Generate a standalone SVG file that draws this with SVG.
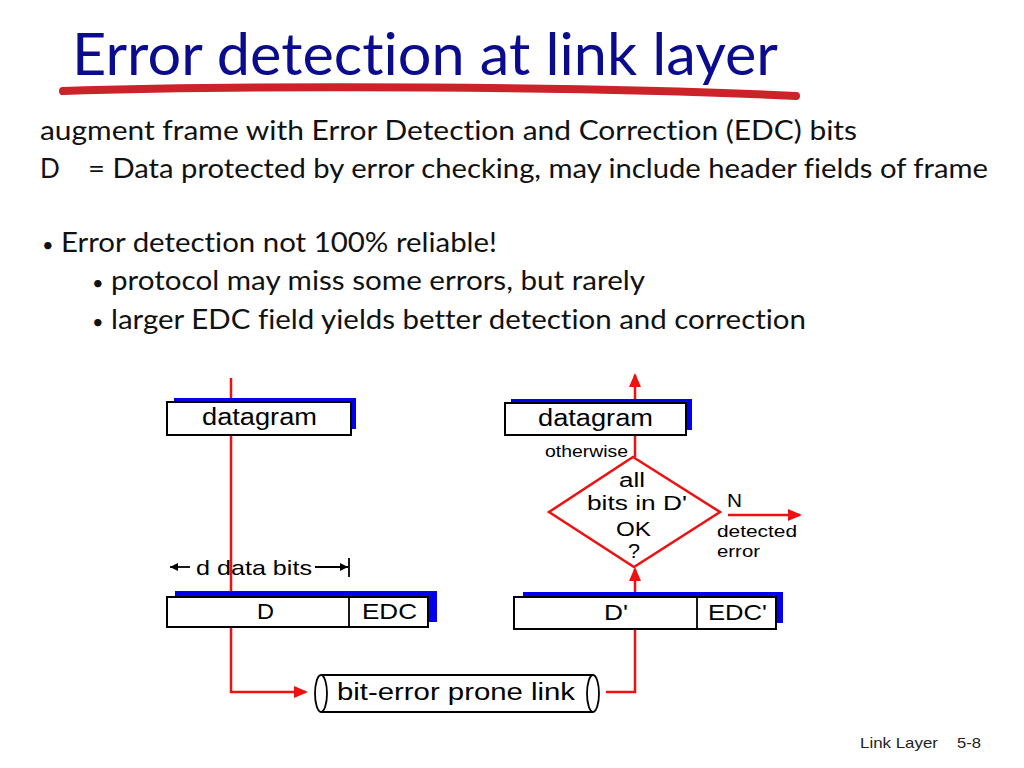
<svg xmlns="http://www.w3.org/2000/svg" width="1024" height="768" viewBox="0 0 1024 768">
<defs>
<style>
.title{font-family:"Lato","Open Sans","Liberation Sans",sans-serif;font-size:58px;fill:#0B0B8E;font-variant-ligatures:none}
.body{font-family:"Lato","Open Sans","Liberation Sans",sans-serif;font-size:26px;fill:#111;font-variant-ligatures:none}
.bul{font-size:20px}
.dg{font-family:"Liberation Sans",Arial,sans-serif;fill:#000}
.box{fill:#fff;stroke:#000;stroke-width:2}
.shadow{fill:#0000EE}
.red{fill:none;stroke:#EE1111;stroke-width:2.5}
.blk{fill:none;stroke:#000;stroke-width:1.8}
.foot{font-family:"Liberation Sans",Arial,sans-serif;font-size:15px;fill:#222}
</style>
<marker id="rh" viewBox="0 0 14 12" refX="12" refY="6" markerWidth="14" markerHeight="12" markerUnits="userSpaceOnUse" orient="auto">
<path d="M0,0 L14,6 L0,12 z" fill="#EE1111"/>
</marker>
<marker id="bh" viewBox="0 0 10 10" refX="10" refY="5" markerWidth="9" markerHeight="8" markerUnits="userSpaceOnUse" orient="auto">
<path d="M0,0 L10,5 L0,10 z" fill="#000"/>
</marker>
</defs>
<rect width="1024" height="768" fill="#fff"/>

<g id="title">
<text class="title" x="72" y="75" textLength="706" lengthAdjust="spacingAndGlyphs">Error detection at link layer</text>
<path d="M63,91 C 250,85 600,86 796,96" fill="none" stroke="#CC2229" stroke-width="8" stroke-linecap="round"/>
</g>

<g id="text-body">
<text class="body" x="40" y="140" textLength="817" lengthAdjust="spacingAndGlyphs">augment frame with Error Detection and Correction (EDC) bits</text>
<text class="body" x="40" y="178">D</text>
<text class="body" x="88" y="178" textLength="900" lengthAdjust="spacingAndGlyphs">= Data protected by error checking, may include header fields of frame</text>
<text class="body" x="42" y="252"><tspan class="bul">•</tspan></text>
<text class="body" x="61" y="252" textLength="436" lengthAdjust="spacingAndGlyphs">Error detection not 100% reliable!</text>
<text class="body" x="92" y="290"><tspan class="bul">•</tspan></text>
<text class="body" x="111" y="290" textLength="534" lengthAdjust="spacingAndGlyphs">protocol may miss some errors, but rarely</text>
<text class="body" x="92" y="329"><tspan class="bul">•</tspan></text>
<text class="body" x="111" y="329" textLength="695" lengthAdjust="spacingAndGlyphs">larger EDC field yields better detection and correction</text>
</g>

<g id="connectors">
<polyline class="red" points="231,378 231,692 306,692" marker-end="url(#rh)"/>
<polyline class="red" points="606,692 635,692 635,629"/>
<line class="red" x1="635" y1="597" x2="635" y2="569" marker-end="url(#rh)"/>
<line class="red" x1="635" y1="457" x2="635" y2="435"/>
<line class="red" x1="635" y1="399" x2="635" y2="375" marker-end="url(#rh)"/>
<line class="red" x1="728" y1="515" x2="800" y2="515" marker-end="url(#rh)"/>
<line class="blk" x1="190" y1="567" x2="170" y2="567" marker-end="url(#bh)"/>
<line class="blk" x1="315" y1="567" x2="348" y2="567" marker-end="url(#bh)"/>
<line class="blk" x1="349" y1="558" x2="349" y2="577"/>
</g>

<g id="datagram-left">
<rect class="shadow" x="174" y="398" width="182" height="31"/>
<rect class="box" x="167" y="402" width="184" height="33"/>
<text class="dg" x="202" y="425" font-size="23" textLength="115" lengthAdjust="spacingAndGlyphs">datagram</text>
</g>

<g id="dbits-label">
<text class="dg" x="196" y="575" font-size="21" textLength="116" lengthAdjust="spacingAndGlyphs">d data bits</text>
</g>

<g id="frame-left">
<rect class="shadow" x="175" y="591" width="262" height="31"/>
<rect class="box" x="167" y="597" width="261" height="30"/>
<line class="blk" x1="349" y1="597" x2="349" y2="627" stroke-width="2"/>
<text class="dg" x="257" y="619" font-size="22" textLength="17" lengthAdjust="spacingAndGlyphs">D</text>
<text class="dg" x="362" y="619" font-size="22" textLength="55" lengthAdjust="spacingAndGlyphs">EDC</text>
</g>

<g id="link">
<line class="blk" x1="321" y1="675" x2="593" y2="675"/>
<line class="blk" x1="321" y1="712" x2="593" y2="712"/>
<ellipse class="blk" cx="321" cy="693.5" rx="6" ry="18.5"/>
<ellipse class="blk" cx="593" cy="693.5" rx="6" ry="18.5"/>
<text class="dg" x="337" y="700" font-size="23" textLength="238" lengthAdjust="spacingAndGlyphs">bit-error prone link</text>
</g>

<g id="frame-right">
<rect class="shadow" x="523" y="592" width="260" height="31"/>
<rect class="box" x="514" y="597" width="262" height="32"/>
<line class="blk" x1="697" y1="597" x2="697" y2="629" stroke-width="2"/>
<text class="dg" x="604" y="620" font-size="22" textLength="24" lengthAdjust="spacingAndGlyphs">D'</text>
<text class="dg" x="708" y="620" font-size="22" textLength="59" lengthAdjust="spacingAndGlyphs">EDC'</text>
</g>

<g id="decision">
<polygon points="633,457 720,512 634,567 549,512" fill="#fff" stroke="#EE1111" stroke-width="2.5"/>
<text class="dg" x="619" y="487" font-size="20" textLength="26" lengthAdjust="spacingAndGlyphs">all</text>
<text class="dg" x="587" y="510" font-size="20" textLength="100" lengthAdjust="spacingAndGlyphs">bits in D'</text>
<text class="dg" x="616" y="536" font-size="20" textLength="35" lengthAdjust="spacingAndGlyphs">OK</text>
<text class="dg" x="628" y="558" font-size="20" textLength="12" lengthAdjust="spacingAndGlyphs">?</text>
</g>

<g id="labels">
<text class="dg" x="545" y="457" font-size="16" textLength="83" lengthAdjust="spacingAndGlyphs">otherwise</text>
<text class="dg" x="727" y="507" font-size="19" textLength="15" lengthAdjust="spacingAndGlyphs">N</text>
<text class="dg" x="717" y="537" font-size="17" textLength="80" lengthAdjust="spacingAndGlyphs">detected</text>
<text class="dg" x="717" y="557" font-size="17" textLength="43" lengthAdjust="spacingAndGlyphs">error</text>
</g>

<g id="datagram-right">
<rect class="shadow" x="511" y="399" width="181" height="31"/>
<rect class="box" x="505" y="403" width="181" height="32"/>
<text class="dg" x="538" y="426" font-size="23" textLength="115" lengthAdjust="spacingAndGlyphs">datagram</text>
</g>

<g id="footer">
<text class="foot" x="860" y="748" textLength="78" lengthAdjust="spacingAndGlyphs">Link Layer</text>
<text class="foot" x="957" y="748" textLength="24" lengthAdjust="spacingAndGlyphs">5-8</text>
</g>
</svg>
